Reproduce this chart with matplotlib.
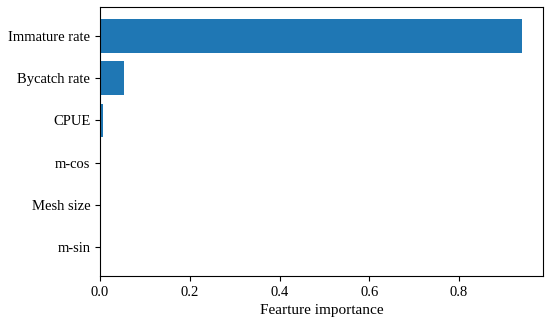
import matplotlib
matplotlib.use("Agg")
import matplotlib.pyplot as plt

features = ["m-sin", "Mesh size", "m-cos", "CPUE", "Bycatch rate", "Immature rate"]
importance = [0.0, 0.0, 0.0, 0.007, 0.053, 0.940]
xticks = [0.0, 0.2, 0.4, 0.6, 0.8]

plt.rcParams['font.family'] = ['Liberation Serif', 'DejaVu Serif']
fig = plt.figure(figsize=(5.5, 3.24), dpi=100)
ax = fig.add_axes([100/550, 1 - 276/324, 443/550, (276-7)/324])
ax.barh(features, importance, height=0.8, color="#1f77b4")
ax.set_xticks(xticks)
ax.set_xticklabels([f"{t:.1f}" for t in xticks])
ax.set_xlabel("Fearture importance", fontsize=11)
ax.tick_params(labelsize=10.5)
fig.savefig("out.png", dpi=100)
